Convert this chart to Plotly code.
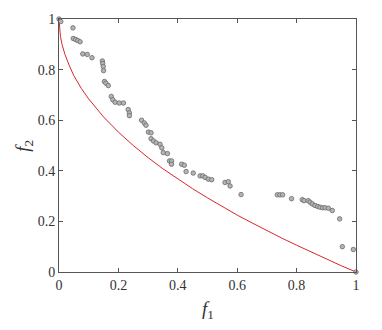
import plotly.graph_objects as go

# Pareto front (red curve)
front_f1 = [0, 0.002, 0.005, 0.01, 0.02, 0.035, 0.05, 0.075, 0.1, 0.15, 0.2, 0.25, 0.3, 0.35,
            0.4, 0.45, 0.5, 0.55, 0.6, 0.65, 0.7, 0.75, 0.8, 0.85, 0.9, 0.95, 1]
front_f2 = [1, 0.955, 0.93, 0.9, 0.86, 0.815, 0.776, 0.726, 0.684, 0.613, 0.553, 0.5, 0.452, 0.408,
            0.368, 0.329, 0.293, 0.258, 0.225, 0.194, 0.163, 0.134, 0.106, 0.078, 0.051, 0.025, 0]

# Obtained solutions (grey points)
sol_f1 = [0.0, 0.006, 0.047, 0.048, 0.056, 0.063, 0.071, 0.08, 0.095, 0.111, 0.146, 0.147, 0.149,
          0.15, 0.153, 0.158, 0.166, 0.176, 0.181, 0.189, 0.203, 0.217, 0.233, 0.237, 0.237, 0.278,
          0.287, 0.293, 0.301, 0.31, 0.31, 0.318, 0.327, 0.34, 0.346, 0.351, 0.365, 0.372, 0.379,
          0.379, 0.413, 0.422, 0.428, 0.452, 0.475, 0.484, 0.492, 0.503, 0.514, 0.559, 0.57, 0.576,
          0.613, 0.735, 0.744, 0.753, 0.783, 0.819, 0.825, 0.839, 0.845, 0.853, 0.862, 0.871, 0.879,
          0.888, 0.896, 0.907, 0.92, 0.945, 0.954, 0.991, 1.0]
sol_f2 = [1.0, 0.99, 0.965, 0.923, 0.919, 0.915, 0.91, 0.862, 0.86, 0.847, 0.834, 0.824, 0.812,
          0.796, 0.753, 0.746, 0.737, 0.694, 0.681, 0.671, 0.668, 0.668, 0.642, 0.629, 0.618, 0.6,
          0.589, 0.58, 0.553, 0.55, 0.527, 0.518, 0.511, 0.505, 0.491, 0.472, 0.468, 0.439, 0.439,
          0.426, 0.426, 0.422, 0.397, 0.391, 0.38, 0.38, 0.374, 0.367, 0.365, 0.354, 0.357, 0.34,
          0.306, 0.305, 0.305, 0.305, 0.29, 0.286, 0.282, 0.282, 0.276, 0.269, 0.263, 0.259, 0.256,
          0.254, 0.254, 0.252, 0.243, 0.21, 0.1, 0.089, 0.0]

tick_vals = [0, 0.2, 0.4, 0.6, 0.8, 1]
tick_text = ["0", "0.2", "0.4", "0.6", "0.8", "1"]

SERIF = "Liberation Serif"

fig = go.Figure()
fig.add_trace(go.Scatter(x=front_f1, y=front_f2, mode="lines",
                         line=dict(color="#d9262b", width=1), cliponaxis=False,
                         showlegend=False, hoverinfo="skip"))
fig.add_trace(go.Scatter(x=sol_f1, y=sol_f2, mode="markers",
                         marker=dict(size=4.5, color="#b4b4b4",
                                     line=dict(color="#6a6a6a", width=0.8)),
                         cliponaxis=False, showlegend=False))

axis_common = dict(range=[0, 1], tickvals=tick_vals, ticktext=tick_text,
                   ticks="inside", ticklen=4, tickcolor="#555555",
                   showline=True, linecolor="#555555", linewidth=1, mirror="ticks",
                   showgrid=False, zeroline=False,
                   tickfont=dict(family=SERIF, size=14, color="#333333"))

fig.update_xaxes(**axis_common)
fig.update_yaxes(**axis_common)

fig.update_layout(
    width=382, height=330,
    margin=dict(l=59, r=26, t=17, b=58),
    plot_bgcolor="white", paper_bgcolor="white",
    font=dict(family=SERIF),
    annotations=[
        dict(text="<i>f</i><sub>1</sub>", x=0.5, y=-0.095, xref="paper", yref="paper",
             xanchor="center", yanchor="top", showarrow=False,
             font=dict(family=SERIF, size=19, color="#333333")),
        dict(text="<i>f</i><sub>2</sub>", x=-0.12, y=0.5, xref="paper", yref="paper",
             xanchor="center", yanchor="middle", showarrow=False, textangle=-90,
             font=dict(family=SERIF, size=19, color="#333333")),
    ],
)

fig.write_html("out.html", config={"displayModeBar": False},
               post_script="document.body.style.margin='0';document.body.style.padding='0';")
